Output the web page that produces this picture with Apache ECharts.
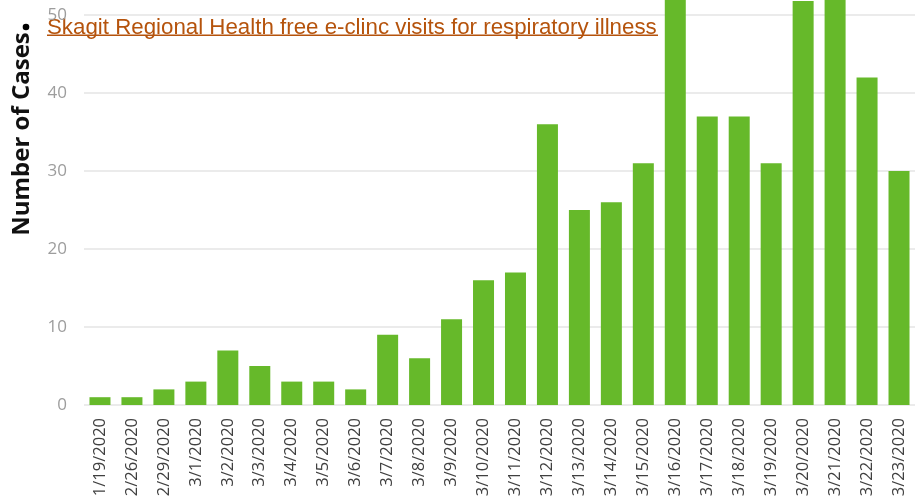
<!DOCTYPE html>
<html><head><meta charset="utf-8">
<script src="https://cdn.jsdelivr.net/npm/echarts@6/dist/echarts.min.js"></script>
<style>html,body{margin:0;padding:0;background:#fff}#c{width:915px;height:504px}</style>
</head><body><div id="c"></div>
<script>
const categories = ['1/19/2020','2/26/2020','2/29/2020','3/1/2020','3/2/2020','3/3/2020','3/4/2020','3/5/2020','3/6/2020','3/7/2020','3/8/2020','3/9/2020','3/10/2020','3/11/2020','3/12/2020','3/13/2020','3/14/2020','3/15/2020','3/16/2020','3/17/2020','3/18/2020','3/19/2020','3/20/2020','3/21/2020','3/22/2020','3/23/2020'];
const cases = [1,1,2,3,7,5,3,3,2,9,6,11,16,17,36,25,26,31,58,37,37,31,51.8,56,42,30];
const yTicks = [0,10,20,30,40,50];
const titleText = 'Skagit Regional Health free e-clinc visits for respiratory illness';
const yName = 'Number of Cases';

const chart = echarts.init(document.getElementById('c'));
chart.setOption({
  animation: false,
  grid: { left: 84, top: 15, width: 835, bottom: 99, containLabel: false },
  xAxis: {
    type: 'category', data: categories,
    axisLine: { show: false }, axisTick: { show: false },
    axisLabel: { rotate: 90, interval: 0, margin: 13, color: '#404040', fontSize: 16.5, fontFamily: 'Open Sans' }
  },
  yAxis: {
    type: 'value', min: yTicks[0], max: yTicks[yTicks.length-1], interval: 10,
    axisLine: { show: false }, axisTick: { show: false },
    axisLabel: { margin: 17, color: '#9d9d9d', fontSize: 17, fontFamily: 'Open Sans' },
    splitLine: { lineStyle: { color: '#e4e4e4', width: 1.5 } }
  },
  series: [{
    type: 'bar', data: cases, barWidth: 21, clip: false,
    itemStyle: { color: '#66b92a' }
  }],
  graphic: [
    { type: 'text', x: 22, y: 134, rotation: Math.PI/2, originX: 0, originY: 0,
      style: { text: yName, font: 'bold 24px "Open Sans"', fill: '#111', textAlign: 'center', textVerticalAlign: 'middle' } },
    { type: 'circle', shape: { cx: 26, cy: 27, r: 3.3 }, style: { fill: '#000' } },
    { type: 'text', x: 47, y: 39,
      style: { text: titleText, font: '22.3px "Liberation Sans", Arial', fill: '#b5530c', textVerticalAlign: 'bottom' } },
    { type: 'rect', shape: { x: 47, y: 34.5, width: 611, height: 1.5 }, style: { fill: '#b5530c' } }
  ]
});
</script></body></html>
